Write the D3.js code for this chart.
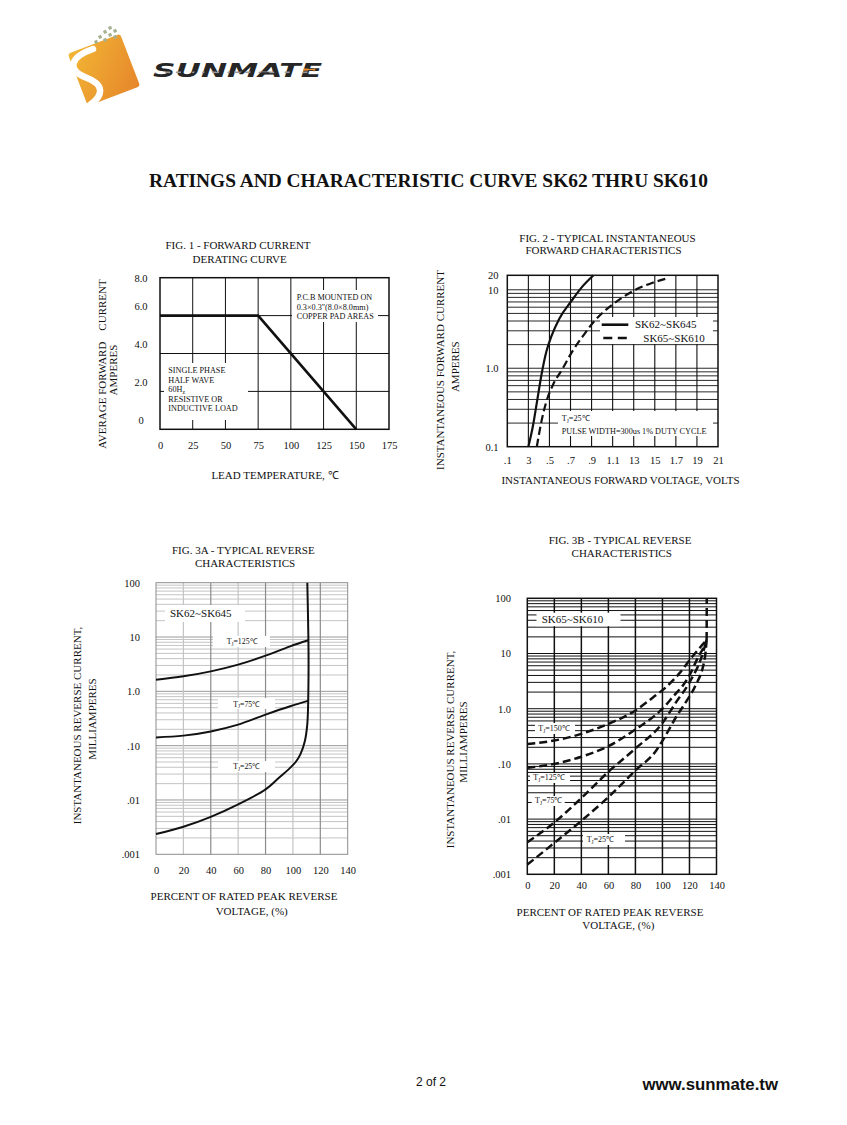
<!DOCTYPE html>
<html><head><meta charset="utf-8">
<script src="https://cdn.jsdelivr.net/npm/d3@7"></script>
<style>
html,body{margin:0;padding:0;background:#fff;}
svg{display:block;}
text{font-family:"Liberation Serif","Times New Roman",serif;fill:#111;}
</style></head><body>
<svg id="page" width="847" height="1125"></svg>
<script>
// ---------------- DATA ----------------
// Fig.1 forward current derating
const fig1Temp = [0, 75, 150];
const fig1Current = [6.0, 6.0, 0];
const fig1XTicks = [0, 25, 50, 75, 100, 125, 150, 175];
const fig1YTicks = [0, 2, 4, 6, 8];
const fig1YLabels = ["0", "2.0", "4.0", "6.0", "8.0"];

// Fig.2 forward characteristics
const fig2XTicks = [0.1, 0.3, 0.5, 0.7, 0.9, 1.1, 1.3, 1.5, 1.7, 1.9, 2.1];
const fig2XLabels = [".1", "3", ".5", ".7", ".9", "1.1", "13", "15", "1.7", "19", "21"];
const fig2YTicks = [0.1, 1, 10, 15.3];
const fig2YLabels = ["0.1", "1.0", "10", "20"];
const fig2VoltA = [0.30, 0.345, 0.382, 0.424, 0.471, 0.518, 0.596, 0.706, 0.80, 0.918];
const fig2AmpA  = [0.1, 0.189, 0.376, 0.82, 1.63, 2.54, 4.35, 7.11, 10.5, 15.3];
const fig2VoltB = [0.38, 0.424, 0.471, 0.533, 0.627, 0.706, 0.815, 0.909, 1.035, 1.16, 1.317, 1.473, 1.60];
const fig2AmpB  = [0.1, 0.209, 0.376, 0.612, 1.0, 1.55, 2.54, 3.75, 5.55, 7.45, 10.0, 12.2, 13.8];

// Fig.3A reverse characteristics SK62~SK645
const fig3XTicks = [0, 20, 40, 60, 80, 100, 120, 140];
const fig3YTicks = [0.001, 0.01, 0.1, 1, 10, 100];
const fig3YLabels = [".001", ".01", ".10", "1.0", "10", "100"];
const fig3aPct125 = [0, 20, 40, 60, 80, 98, 111.2];
const fig3aI125   = [1.64, 1.89, 2.33, 3.1, 4.54, 6.74, 8.7];
const fig3aPct75  = [0, 20, 40, 60, 80, 98, 111.5];
const fig3aI75    = [0.142, 0.153, 0.183, 0.244, 0.372, 0.53, 0.674];
const fig3aPct25  = [0, 20, 40, 60, 80, 90, 97, 102, 105.5, 108.5, 110.5, 111.3, 111.4, 111, 110.5];
const fig3aI25    = [0.00236, 0.00322, 0.0049, 0.0083, 0.0157, 0.026, 0.037, 0.05, 0.07, 0.115, 0.25, 1.2, 5, 25, 100];

// Fig.3B reverse characteristics SK65~SK610
const fig3bPct150 = [0, 20, 40, 60, 80, 93, 103, 113, 122, 128, 132.7];
const fig3bI150   = [0.23, 0.265, 0.35, 0.53, 0.93, 1.6, 2.5, 4.5, 8.7, 13, 17.5];
const fig3bPct125 = [0, 20, 40, 60, 80, 100, 110, 115, 121, 126.5, 130.5, 132.7];
const fig3bI125   = [0.085, 0.1, 0.135, 0.21, 0.42, 1.0, 1.9, 2.6, 4.5, 8.7, 13, 17.5];
const fig3bPct75  = [0, 20, 40, 60, 80, 100, 110, 120, 129, 132.7];
const fig3bI75    = [0.0038, 0.0087, 0.024, 0.072, 0.19, 0.55, 1.3, 3.0, 8.7, 17.5];
const fig3bPct25  = [0, 20, 40, 60, 80, 95, 103, 110, 118, 124, 131.5, 132.7];
const fig3bI25    = [0.0015, 0.0037, 0.0093, 0.025, 0.076, 0.17, 0.35, 0.7, 1.4, 2.5, 8.7, 17.5];
const fig3bPctBreak = [132.7, 132.8];
const fig3bIBreak   = [17.5, 100];

// ---------------- HELPERS ----------------
const svg = d3.select("#page");
const zip = (a, b) => a.map((v, i) => [v, b[i]]);

function logMinor(domain) {
  const vals = [];
  const k0 = Math.floor(Math.log10(domain[0])), k1 = Math.ceil(Math.log10(domain[1]));
  for (let k = k0; k <= k1; k++) for (let m = 1; m < 10; m++) {
    const v = m * Math.pow(10, k);
    if (v > domain[0] * 1.0001 && v < domain[1] * 0.9999) vals.push(v);
  }
  return vals;
}
function hLines(g, vals, x, y, stroke, w) {
  g.selectAll(null).data(vals).join("line")
    .attr("x1", x.range()[0]).attr("x2", x.range()[1])
    .attr("y1", d => y(d)).attr("y2", d => y(d))
    .attr("stroke", typeof stroke === "function" ? stroke : () => stroke)
    .attr("stroke-width", typeof w === "function" ? w : () => w);
}
function vLines(g, vals, x, y, stroke, w) {
  g.selectAll(null).data(vals).join("line")
    .attr("y1", y.range()[0]).attr("y2", y.range()[1])
    .attr("x1", d => x(d)).attr("x2", d => x(d))
    .attr("stroke", typeof stroke === "function" ? stroke : () => stroke)
    .attr("stroke-width", typeof w === "function" ? w : () => w);
}
function border(g, x, y, stroke, w) {
  const [x0, x1] = x.range(), [y0, y1] = y.range();
  g.append("rect").attr("x", x0).attr("y", Math.min(y0, y1))
    .attr("width", x1 - x0).attr("height", Math.abs(y0 - y1))
    .attr("fill", "none").attr("stroke", stroke).attr("stroke-width", w);
}
function box(g, x, y, w, h) {
  g.append("rect").attr("x", x).attr("y", y).attr("width", w).attr("height", h).attr("fill", "#fff");
}
function txt(g, x, y, s, size, anchor) {
  return g.append("text").attr("x", x).attr("y", y).attr("font-size", size)
    .attr("text-anchor", anchor || "start").style("white-space", "pre").text(s);
}
function vtxt(g, x, y, s, size) {
  return g.append("text").attr("transform", `translate(${x},${y}) rotate(-90)`)
    .attr("font-size", size).attr("text-anchor", "middle").attr("dy", "0.35em")
    .style("white-space", "pre").text(s);
}
function tj(g, x, y, temp, size) {
  const t = g.append("text").attr("x", x).attr("y", y).attr("font-size", size);
  t.append("tspan").text("T");
  t.append("tspan").attr("font-size", size * 0.65).attr("dy", size * 0.22).text("J");
  t.append("tspan").attr("dy", -size * 0.22).text("=" + temp + "℃");
}
function styleAxis(g, size) {
  g.attr("font-family", "Liberation Serif, serif").attr("font-size", size);
  g.select(".domain").remove();
  g.selectAll(".tick line").remove();
  g.selectAll("text").attr("fill", "#111");
}

// ---------------- LOGO / HEADER ----------------
const defs = svg.append("defs");
const lg = defs.append("linearGradient").attr("id", "lg").attr("x1", "0").attr("y1", "0").attr("x2", "1").attr("y2", "1");
lg.append("stop").attr("offset", "0").attr("stop-color", "#f2b634");
lg.append("stop").attr("offset", "1").attr("stop-color", "#e6862b");
svg.append("rect").attr("x", -28).attr("y", -28).attr("width", 56).attr("height", 56).attr("rx", 3)
  .attr("transform", "translate(104,70) rotate(-21)").attr("fill", "url(#lg)");
svg.append("path").attr("d", "M 93 49 C 70 57, 66 70, 87 78 C 105 85, 103 96, 90 105")
  .attr("fill", "none").attr("stroke", "#fff").attr("stroke-width", 6.5).attr("stroke-linecap", "round");
[[108, 27], [113, 30], [103, 31], [108, 34], [98, 36], [103, 39], [94, 41], [113, 36]].forEach(p => {
  svg.append("rect").attr("x", p[0]).attr("y", p[1]).attr("width", 3.2).attr("height", 3.2)
    .attr("fill", "#a4b08f").attr("transform", `rotate(-21 ${p[0]} ${p[1]})`);
});
defs.append("clipPath").attr("id", "brandclip").append("text")
  .attr("x", 153).attr("y", 77).attr("font-family", "DejaVu Sans").attr("font-weight", "bold")
  .attr("font-style", "italic").attr("font-size", 20).attr("textLength", 169)
  .attr("lengthAdjust", "spacingAndGlyphs").text("SUNMATE");
svg.append("text").attr("x", 153).attr("y", 77).attr("font-family", "DejaVu Sans").attr("font-weight", "bold")
  .attr("font-style", "italic").attr("font-size", 20).attr("textLength", 169)
  .attr("lengthAdjust", "spacingAndGlyphs").style("fill", "#262626").style("font-family", "DejaVu Sans").text("SUNMATE");
svg.append("rect").attr("x", 150).attr("y", 71.5).attr("width", 175).attr("height", 1.6)
  .attr("fill", "#9a9a9a").attr("clip-path", "url(#brandclip)");
svg.append("rect").attr("x", 300).attr("y", 68.5).attr("width", 25).attr("height", 2.2)
  .attr("fill", "#e8892a").attr("clip-path", "url(#brandclip)");

txt(svg, 428.5, 186.5, "RATINGS AND CHARACTERISTIC CURVE SK62 THRU SK610", 19.4, "middle").attr("font-weight", "bold");

// ---------------- FIG 1 ----------------
{
  const g = svg.append("g");
  const x = d3.scaleLinear().domain([0, 175]).range([160, 389]);
  const y = d3.scaleLinear().domain([0, 8]).range([429.3, 277.7]);
  vLines(g, fig1XTicks.filter(v => v > 0 && v < 175), x, y, "#111", 1);
  hLines(g, fig1YTicks.filter(v => v > 0 && v < 8), x, y, "#111", 1);
  box(g, 292, 290, 86, 32);
  box(g, 164, 363, 84, 57);
  border(g, x, y, "#111", 1.5);
  g.append("path").datum(zip(fig1Temp, fig1Current))
    .attr("d", d3.line().x(d => x(d[0])).y(d => y(d[1])))
    .attr("fill", "none").attr("stroke", "#111").attr("stroke-width", 2.6);
  const ax = g.append("g").attr("transform", `translate(0,${y.range()[0]})`)
    .call(d3.axisBottom(x).tickValues(fig1XTicks).tickSize(0).tickPadding(12.4));
  styleAxis(ax, 10.5);
  const ay = g.append("g").attr("transform", `translate(${x.range()[0]},0)`)
    .call(d3.axisLeft(y).tickValues(fig1YTicks).tickFormat(d => fig1YLabels[fig1YTicks.indexOf(d)]).tickSize(0).tickPadding(19));
  styleAxis(ay, 10.5);
  ay.selectAll("text").attr("text-anchor", "middle")
    .attr("transform", d => `translate(0,${Math.max(-9.6, y(8) - y(d))})`);
  const fs = 8.2;
  txt(g, 296.7, 300, "P.C.B MOUNTED ON", fs);
  txt(g, 296.7, 309.5, "0.3×0.3\"(8.0×8.0mm)", fs);
  txt(g, 296.7, 318.8, "COPPER PAD AREAS", fs);
  txt(g, 168.3, 372.8, "SINGLE PHASE", fs);
  txt(g, 168.3, 382.8, "HALF WAVE", fs);
  const hz = txt(g, 168.3, 391.8, "60H", fs);
  hz.append("tspan").attr("font-size", fs * 0.7).attr("dy", 1.8).text("z");
  txt(g, 168.3, 401.8, "RESISTIVE OR", fs);
  txt(g, 168.3, 411, "INDUCTIVE LOAD", fs);
  txt(g, 238, 248.7, "FIG. 1 - FORWARD CURRENT", 11, "middle");
  txt(g, 239.7, 262.6, "DERATING CURVE", 11, "middle");
  vtxt(g, 101.7, 364, "AVERAGE FORWARD    CURRENT", 11);
  vtxt(g, 112.7, 370, "AMPERES", 11);
  txt(g, 275, 478.6, "LEAD TEMPERATURE, ℃", 11, "middle");
}

// ---------------- FIG 2 ----------------
{
  const g = svg.append("g");
  const x = d3.scaleLinear().domain([0.1, 2.1]).range([507.3, 718]);
  const y = d3.scaleLog().domain([0.1, 15.3]).range([446.7, 275.3]);
  vLines(g, fig2XTicks.slice(1, -1), x, y, "#111", 1.1);
  hLines(g, logMinor(y.domain()), x, y, "#111", 0.9);
  box(g, 600, 317, 113, 27);
  box(g, 558, 411, 155, 25);
  border(g, x, y, "#111", 1.5);
  const line = d3.line().x(d => x(d[0])).y(d => y(d[1])).curve(d3.curveMonotoneX);
  g.append("path").datum(zip(fig2VoltA, fig2AmpA)).attr("d", line)
    .attr("fill", "none").attr("stroke", "#111").attr("stroke-width", 2.2);
  g.append("path").datum(zip(fig2VoltB, fig2AmpB)).attr("d", line)
    .attr("fill", "none").attr("stroke", "#111").attr("stroke-width", 2.2).attr("stroke-dasharray", "8,4");
  const ax = g.append("g").attr("transform", `translate(0,${y.range()[0]})`)
    .call(d3.axisBottom(x).tickValues(fig2XTicks).tickFormat(d => fig2XLabels[fig2XTicks.indexOf(d)]).tickSize(0).tickPadding(10.3));
  styleAxis(ax, 10.5);
  const ay = g.append("g").attr("transform", `translate(${x.range()[0]},0)`)
    .call(d3.axisLeft(y).tickValues(fig2YTicks).tickFormat(d => fig2YLabels[fig2YTicks.indexOf(d)]).tickSize(0).tickPadding(8.8));
  styleAxis(ay, 10.5);
  // legend
  g.append("line").attr("x1", 601.7).attr("x2", 628.3).attr("y1", 324.7).attr("y2", 324.7)
    .attr("stroke", "#111").attr("stroke-width", 2.6);
  g.append("line").attr("x1", 603.3).attr("x2", 627).attr("y1", 338).attr("y2", 338)
    .attr("stroke", "#111").attr("stroke-width", 2.6).attr("stroke-dasharray", "9,5.5");
  txt(g, 635, 328.3, "SK62~SK645", 11);
  txt(g, 643.3, 341.6, "SK65~SK610", 11);
  tj(g, 561.7, 420.7, "25", 8.2);
  txt(g, 561.7, 434, "PULSE WIDTH=300us 1% DUTY CYCLE", 8.2);
  txt(g, 607.5, 241.9, "FIG. 2 - TYPICAL INSTANTANEOUS", 11, "middle");
  txt(g, 603.5, 254.3, "FORWARD CHARACTERISTICS", 11, "middle");
  vtxt(g, 440, 370, "INSTANTANEOUS FORWARD CURRENT", 11);
  vtxt(g, 455, 366.7, "AMPERES", 11);
  txt(g, 620.5, 483.6, "INSTANTANEOUS FORWARD VOLTAGE, VOLTS", 11, "middle");
}

// ---------------- FIG 3A ----------------
{
  const g = svg.append("g");
  const x = d3.scaleLinear().domain([0, 140]).range([156, 347.7]);
  const y = d3.scaleLog().domain([0.001, 100]).range([854.3, 582.7]);
  const minors = logMinor(y.domain());
  hLines(g, minors, x, y, d => fig3YTicks.some(t => Math.abs(t - d) / t < 1e-6) ? "#8c8c8c" : "#bdbdbd", 0.9);
  vLines(g, fig3XTicks.slice(1, -1), x, y, d => (d % 40 === 0) ? "#8c8c8c" : "#c4c4c4", 1.2);
  box(g, 165, 605, 80, 17);
  box(g, 213, 636, 57, 11);
  box(g, 218, 698, 57, 11);
  box(g, 218, 761, 57, 11);
  border(g, x, y, "#8c8c8c", 1);
  const lineM = d3.line().x(d => x(d[0])).y(d => y(d[1])).curve(d3.curveMonotoneX);
  const lineC = d3.line().x(d => x(d[0])).y(d => y(d[1])).curve(d3.curveCatmullRom.alpha(0.5));
  [[fig3aPct125, fig3aI125, lineM], [fig3aPct75, fig3aI75, lineM], [fig3aPct25, fig3aI25, lineC]].forEach(s => {
    g.append("path").datum(zip(s[0], s[1])).attr("d", s[2])
      .attr("fill", "none").attr("stroke", "#111").attr("stroke-width", 2);
  });
  const ax = g.append("g").attr("transform", `translate(0,${y.range()[0]})`)
    .call(d3.axisBottom(x).tickValues(fig3XTicks).tickSize(0).tickPadding(12.7));
  styleAxis(ax, 10.5);
  const ay = g.append("g").attr("transform", `translate(${x.range()[0]},0)`)
    .call(d3.axisLeft(y).tickValues(fig3YTicks).tickFormat(d => fig3YLabels[fig3YTicks.indexOf(d)]).tickSize(0).tickPadding(16));
  styleAxis(ay, 10.5);
  txt(g, 170, 617, "SK62~SK645", 11);
  tj(g, 226.7, 644.3, "125", 7.8);
  tj(g, 233.3, 706.6, "75", 7.8);
  tj(g, 233.3, 769.3, "25", 7.8);
  txt(g, 243.3, 554.3, "FIG. 3A - TYPICAL REVERSE", 11, "middle");
  txt(g, 245, 566.9, "CHARACTERISTICS", 11, "middle");
  vtxt(g, 77, 725.5, "INSTANTANEOUS REVERSE CURRENT,", 11);
  vtxt(g, 92, 719, "MILLIAMPERES", 11);
  txt(g, 244, 900.3, "PERCENT OF RATED PEAK REVERSE", 11, "middle");
  txt(g, 251.7, 915.3, "VOLTAGE, (%)", 11, "middle");
}

// ---------------- FIG 3B ----------------
{
  const g = svg.append("g");
  const x = d3.scaleLinear().domain([0, 140]).range([527.3, 716.5]);
  const y = d3.scaleLog().domain([0.001, 100]).range([874.3, 598.3]);
  hLines(g, logMinor(y.domain()), x, y, "#111", 1);
  vLines(g, fig3XTicks.slice(1, -1), x, y, "#111", 1.5);
  box(g, 536.5, 612.7, 84, 13.5);
  box(g, 535, 723, 40, 11);
  box(g, 530, 773, 40, 10);
  box(g, 531.7, 796, 33, 10);
  box(g, 583, 834, 42, 11);
  border(g, x, y, "#111", 1.5);
  const line = d3.line().x(d => x(d[0])).y(d => y(d[1])).curve(d3.curveMonotoneX);
  [[fig3bPct150, fig3bI150], [fig3bPct125, fig3bI125], [fig3bPct75, fig3bI75], [fig3bPct25, fig3bI25]].forEach(s => {
    g.append("path").datum(zip(s[0], s[1])).attr("d", line)
      .attr("fill", "none").attr("stroke", "#111").attr("stroke-width", 2.5).attr("stroke-dasharray", "8,4");
  });
  g.append("path").datum(zip(fig3bPctBreak, fig3bIBreak)).attr("d", d3.line().x(d => x(d[0])).y(d => y(d[1])))
    .attr("fill", "none").attr("stroke", "#111").attr("stroke-width", 2.5).attr("stroke-dasharray", "8,4");
  const ax = g.append("g").attr("transform", `translate(0,${y.range()[0]})`)
    .call(d3.axisBottom(x).tickValues(fig3XTicks).tickSize(0).tickPadding(7.7));
  styleAxis(ax, 10.5);
  const ay = g.append("g").attr("transform", `translate(${x.range()[0]},0)`)
    .call(d3.axisLeft(y).tickValues(fig3YTicks).tickFormat(d => fig3YLabels[fig3YTicks.indexOf(d)]).tickSize(0).tickPadding(16.3));
  styleAxis(ay, 10.5);
  txt(g, 541.7, 623, "SK65~SK610", 11);
  tj(g, 538.3, 731, "150", 8);
  tj(g, 533.3, 780, "125", 8);
  tj(g, 535, 803.4, "75", 8);
  tj(g, 586.7, 842, "25", 8);
  txt(g, 620, 544.3, "FIG. 3B - TYPICAL REVERSE", 11, "middle");
  txt(g, 621.7, 556.9, "CHARACTERISTICS", 11, "middle");
  vtxt(g, 450, 749.5, "INSTANTANEOUS REVERSE CURRENT,", 11);
  vtxt(g, 463, 742, "MILLIAMPERES", 11);
  txt(g, 610, 916.3, "PERCENT OF RATED PEAK REVERSE", 11, "middle");
  txt(g, 618.3, 928.6, "VOLTAGE, (%)", 11, "middle");
}

// ---------------- FOOTER ----------------
txt(svg, 416, 1085.7, "2 of 2", 12).style("font-family", "Liberation Sans, Arial, sans-serif");
txt(svg, 778, 1090, "www.sunmate.tw", 16.8, "end").attr("font-weight", "bold")
  .style("font-family", "Liberation Sans, Arial, sans-serif");
</script>
</body></html>
